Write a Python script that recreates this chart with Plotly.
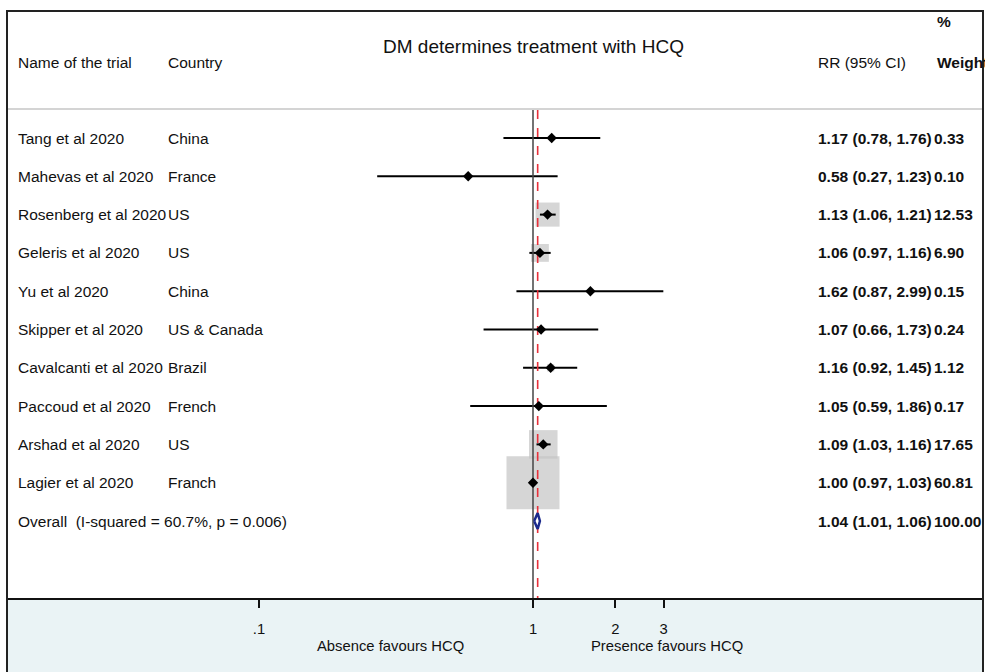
import plotly.graph_objects as go
import math

trials = ["Tang et al 2020", "Mahevas et al 2020", "Rosenberg et al 2020", "Geleris et al 2020",
          "Yu et al 2020", "Skipper et al 2020", "Cavalcanti et al 2020", "Paccoud et al 2020",
          "Arshad et al 2020", "Lagier et al 2020"]
countries = ["China", "France", "US", "US", "China", "US & Canada", "Brazil", "French", "US", "Franch"]
rr = [1.17, 0.58, 1.13, 1.06, 1.62, 1.07, 1.16, 1.05, 1.09, 1.00]
lo = [0.78, 0.27, 1.06, 0.97, 0.87, 0.66, 0.92, 0.59, 1.03, 0.97]
hi = [1.76, 1.23, 1.21, 1.16, 2.99, 1.73, 1.45, 1.86, 1.16, 1.03]
weights = [0.33, 0.10, 12.53, 6.90, 0.15, 0.24, 1.12, 0.17, 17.65, 60.81]
overall_label = "Overall  (I-squared = 60.7%, p = 0.006)"
overall = (1.04, 1.01, 1.06)
overall_weight = 100.00
tick_vals = [0.1, 1, 2, 3]
tick_text = [".1", "1", "2", "3"]

W, H = 985, 672
FONT = "Liberation Sans, Arial, sans-serif"
rows = list(range(len(trials)))
orow = len(trials)

def px(x):
    return x / W

def py(y):
    return 1 - y / H

# axis geometry
dom_x0, dom_x1 = 8, 983
ppd = 274.0  # pixels per decade
x_one = 533
xr = [(dom_x0 - x_one) / ppd, (dom_x1 - x_one) / ppd]
row0, rstep = 138, 38.3
axis_y = 598
yr = [(axis_y - row0) / rstep, (0 - row0) / rstep]

fig = go.Figure()

# weight boxes
fig.add_trace(go.Scatter(
    x=rr, y=rows, mode="markers",
    marker=dict(symbol="square", color="#C4C4C4",
                size=[6.8 * math.sqrt(w) for w in weights], line=dict(width=0)),
    hoverinfo="skip", showlegend=False))

# CI lines
cx, cy = [], []
for i in rows:
    cx += [lo[i], hi[i], None]
    cy += [i, i, None]
fig.add_trace(go.Scatter(x=cx, y=cy, mode="lines", line=dict(color="black", width=2),
                         hoverinfo="skip", showlegend=False))

# reference lines
top_row = (110 - row0) / rstep
fig.add_trace(go.Scatter(x=[1, 1], y=[top_row, yr[0]], mode="lines",
                         line=dict(color="#444444", width=1.5), showlegend=False, hoverinfo="skip"))
fig.add_trace(go.Scatter(x=[overall[0], overall[0]], y=[top_row, yr[0]], mode="lines",
                         line=dict(color="#E8303A", width=1.6, dash="dash"), showlegend=False, hoverinfo="skip"))

# points
fig.add_trace(go.Scatter(x=rr, y=rows, mode="markers",
                         marker=dict(symbol="diamond", color="black", size=8),
                         showlegend=False, hoverinfo="skip"))

# overall diamond
dh = 8 / rstep
fig.add_trace(go.Scatter(
    x=[overall[1], overall[0], overall[2], overall[0], overall[1]],
    y=[orow, orow - dh, orow, orow + dh, orow],
    mode="lines", line=dict(color="#1C2A8C", width=2.5), fill="toself", fillcolor="white",
    showlegend=False, hoverinfo="skip"))

shapes = [
    dict(type="rect", xref="paper", yref="paper", x0=px(7), x1=px(983), y0=py(axis_y), y1=py(680),
         fillcolor="#EAF3F5", line=dict(width=0), layer="below"),
    dict(type="line", xref="paper", yref="paper", x0=px(8), x1=px(983), y0=py(109), y1=py(109),
         line=dict(color="#D4D4D4", width=2)),
    dict(type="rect", xref="paper", yref="paper", x0=px(7), x1=px(983), y0=py(11), y1=py(700),
         line=dict(color="#222222", width=2), fillcolor="rgba(0,0,0,0)"),
]

ann = []
def add_text(x, y, s, yref="paper", size=15.5, bold=False, xanchor="left"):
    ann.append(dict(x=x, y=y, xref="paper", yref=yref, text=("<b>%s</b>" % s) if bold else s,
                    showarrow=False, xanchor=xanchor, yanchor="middle",
                    font=dict(family=FONT, size=size, color="#111111")))

add_text(px(533), py(47), "DM determines treatment with HCQ", size=19, xanchor="center")
add_text(px(16), py(62), "Name of the trial")
add_text(px(166), py(62), "Country")
add_text(px(816), py(62), "RR (95% CI)")
add_text(px(935), py(22), "%", bold=True)
add_text(px(935), py(62), "Weight", bold=True)

for i in rows:
    add_text(px(16), i, trials[i], yref="y")
    add_text(px(166), i, countries[i], yref="y")
    add_text(px(816), i, "%.2f (%.2f, %.2f)" % (rr[i], lo[i], hi[i]), yref="y", bold=True)
    add_text(px(932), i, "%.2f" % weights[i], yref="y", bold=True)
add_text(px(16), orow, overall_label, yref="y")
add_text(px(816), orow, "%.2f (%.2f, %.2f)" % overall, yref="y", bold=True)
add_text(px(932), orow, "%.2f" % overall_weight, yref="y", bold=True)

add_text(px(390), py(646), "Absence favours HCQ", size=14.8, xanchor="center")
add_text(px(667), py(646), "Presence favours HCQ", size=14.8, xanchor="center")

fig.update_layout(
    width=W, height=H, margin=dict(l=0, r=0, t=0, b=0),
    paper_bgcolor="white", plot_bgcolor="rgba(0,0,0,0)",
    shapes=shapes, annotations=ann, showlegend=False,
    xaxis=dict(type="log", range=xr, domain=[px(dom_x0), px(dom_x1)],
               showgrid=False, zeroline=False, showline=True, linecolor="#111111", linewidth=2,
               ticks="outside", ticklen=8, tickwidth=1.5, tickcolor="#111111",
               tickvals=tick_vals, ticktext=tick_text, ticklabelstandoff=8,
               tickfont=dict(family=FONT, size=14.8, color="#111111"), fixedrange=True),
    yaxis=dict(range=yr, domain=[1 - axis_y / H, 1], visible=False, fixedrange=True),
)

fig.write_html("out.html", config={"displayModeBar": False},
               post_script="document.body.style.margin='0';document.body.style.overflow='hidden';")
